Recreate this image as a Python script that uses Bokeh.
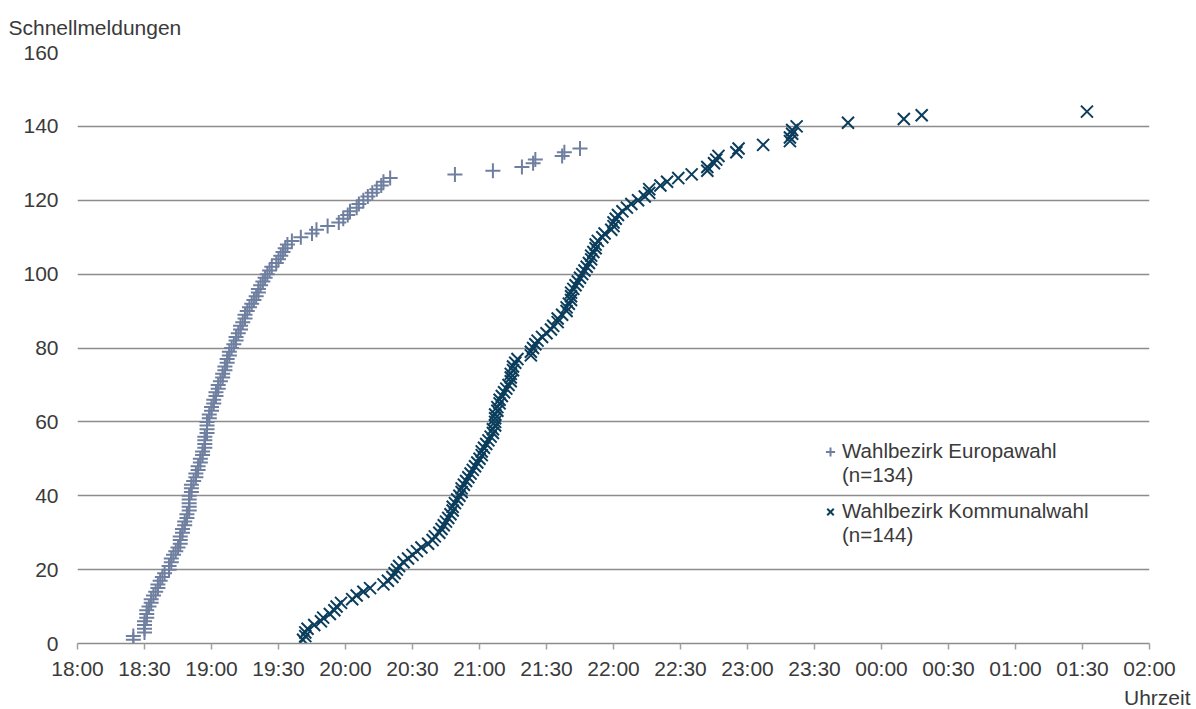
from bokeh.plotting import figure
from bokeh.models import ColumnDataSource, FixedTicker, Legend, LegendItem, Title
from bokeh.embed import file_html
from bokeh.resources import INLINE

# Arrival time of each Schnellmeldung, in minutes after 18:00 (cumulative count = position)
europawahl_min = [
    25, 25, 30, 30, 30, 30, 31, 31, 31, 32,
    33, 33, 34, 35, 36, 36, 37, 38, 39, 41,
    41, 42, 42, 43, 44, 45, 46, 46, 46, 47,
    47, 48, 48, 49, 49, 50, 50, 50, 50, 50,
    51, 51, 51, 52, 53, 53, 54, 54, 55, 55,
    56, 56, 57, 57, 57, 57, 58, 58, 58, 58,
    59, 59, 60, 60, 61, 61, 62, 62, 63, 63,
    64, 65, 65, 66, 66, 67, 67, 68, 68, 69,
    70, 71, 71, 72, 73, 73, 74, 75, 75, 76,
    77, 78, 79, 80, 81, 81, 82, 83, 84, 85,
    86, 87, 89, 90, 91, 92, 93, 94, 96, 100,
    105, 107, 112, 117, 119, 121, 122, 125, 126, 128,
    130, 132, 134, 136, 137, 140, 169, 186, 199, 204,
    205, 217, 218, 225,
]
kommunalwahl_min = [
    101, 102, 102, 103, 106, 109, 110, 113, 115, 116,
    118, 123, 125, 128, 131, 137, 139, 141, 142, 143,
    144, 146, 148, 150, 152, 154, 157, 159, 160, 162,
    163, 164, 165, 166, 167, 168, 168, 169, 170, 171,
    172, 172, 173, 174, 175, 176, 177, 178, 179, 180,
    181, 181, 182, 183, 184, 185, 186, 186, 187, 187,
    187, 187, 188, 188, 189, 189, 190, 191, 192, 193,
    194, 194, 194, 195, 195, 196, 197, 203, 203, 204,
    205, 206, 208, 210, 212, 213, 215, 215, 217, 219,
    219, 220, 221, 221, 221, 222, 223, 224, 225, 226,
    227, 228, 229, 230, 230, 231, 232, 232, 233, 235,
    236, 239, 240, 240, 241, 242, 244, 246, 248, 251,
    254, 256, 256, 261, 264, 269, 275, 282, 282, 285,
    286, 287, 295, 296, 307, 319, 319, 320, 320, 322,
    345, 370, 378, 452,
]

x_ticks_min = [0, 30, 60, 90, 120, 150, 180, 210, 240, 270, 300, 330, 360, 390, 420, 450, 480]
x_tick_labels = ["18:00", "18:30", "19:00", "19:30", "20:00", "20:30", "21:00", "21:30", "22:00",
                 "22:30", "23:00", "23:30", "00:00", "00:30", "01:00", "01:30", "02:00"]
y_ticks = [0, 20, 40, 60, 80, 100, 120, 140, 160]
series_names = ["Wahlbezirk Europawahl", "Wahlbezirk Kommunalwahl"]
y_title = "Schnellmeldungen"
x_title = "Uhrzeit"

FONT = "Liberation Sans"
TEXT = "#3a3a3a"
GRID = "#8c8c8c"
C_EU = "#6f7fa0"
C_KO = "#0b3d5c"

p = figure(width=1196, height=709, x_range=(0, 480), y_range=(0, 160),
           output_backend="svg", toolbar_location=None,
           min_border_left=77, min_border_right=47, min_border_top=52, min_border_bottom=64)
p.outline_line_color = None
p.background_fill_color = "white"
p.border_fill_color = "white"

p.xgrid.visible = False
p.ygrid.ticker = FixedTicker(ticks=y_ticks)
p.ygrid.grid_line_color = GRID
p.ygrid.grid_line_width = 1.5

xa = p.xaxis[0]
xa.ticker = FixedTicker(ticks=x_ticks_min)
xa.major_label_overrides = {t: l for t, l in zip(x_ticks_min, x_tick_labels)}
xa.axis_line_color = GRID
xa.axis_line_width = 1.5
xa.major_tick_line_color = "#a0a0a0"
xa.major_tick_line_width = 1.5
xa.major_tick_out = 6
xa.major_tick_in = 0
xa.minor_tick_line_color = None
xa.major_label_standoff = 7
xa.major_label_text_font = FONT
xa.major_label_text_font_size = "21px"
xa.major_label_text_color = TEXT

ya = p.yaxis[0]
ya.ticker = FixedTicker(ticks=y_ticks)
ya.axis_line_color = None
ya.major_tick_line_color = None
ya.minor_tick_line_color = None
ya.major_tick_out = 0
ya.major_tick_in = 0
ya.major_label_standoff = 19
ya.major_label_text_font = FONT
ya.major_label_text_font_size = "21px"
ya.major_label_text_color = TEXT

eu_src = ColumnDataSource(dict(t=europawahl_min, n=list(range(1, len(europawahl_min) + 1))))
ko_src = ColumnDataSource(dict(t=kommunalwahl_min, n=list(range(1, len(kommunalwahl_min) + 1))))

r_eu = p.scatter("t", "n", source=eu_src, marker="cross", size=15,
                 line_color=C_EU, line_width=2)
r_ko = p.scatter("t", "n", source=ko_src, marker="x", size=17,
                 line_color=C_KO, line_width=2)
blank = p.scatter(x=[], y=[], marker="cross", line_alpha=0, fill_alpha=0)


def make_legend(items, loc):
    return Legend(items=items, location=loc, orientation="vertical",
                  glyph_width=24, glyph_height=23, label_height=23, label_standoff=0,
                  spacing=0, padding=12, margin=0,
                  border_line_color=None, background_fill_color="white", background_fill_alpha=1.0,
                  label_text_font=FONT, label_text_font_size="20.5px", label_text_color=TEXT)


leg1 = make_legend([LegendItem(label=series_names[0], renderers=[r_eu]),
                    LegendItem(label=f"(n={len(europawahl_min)})", renderers=[blank])], (741, 156))
leg2 = make_legend([LegendItem(label=series_names[1], renderers=[r_ko]),
                    LegendItem(label=f"(n={len(kommunalwahl_min)})", renderers=[blank])], (741, 96))
p.add_layout(leg1)
p.add_layout(leg2)

p.add_layout(Title(text=y_title, align="left", offset=-69, standoff=27,
                   text_font=FONT, text_font_size="21px", text_font_style="normal",
                   text_color=TEXT), "above")
p.add_layout(Title(text=x_title, align="right", offset=-41, standoff=2,
                   text_font=FONT, text_font_size="21px", text_font_style="normal",
                   text_color=TEXT), "below")

open("out.html", "w").write(file_html(p, INLINE))
